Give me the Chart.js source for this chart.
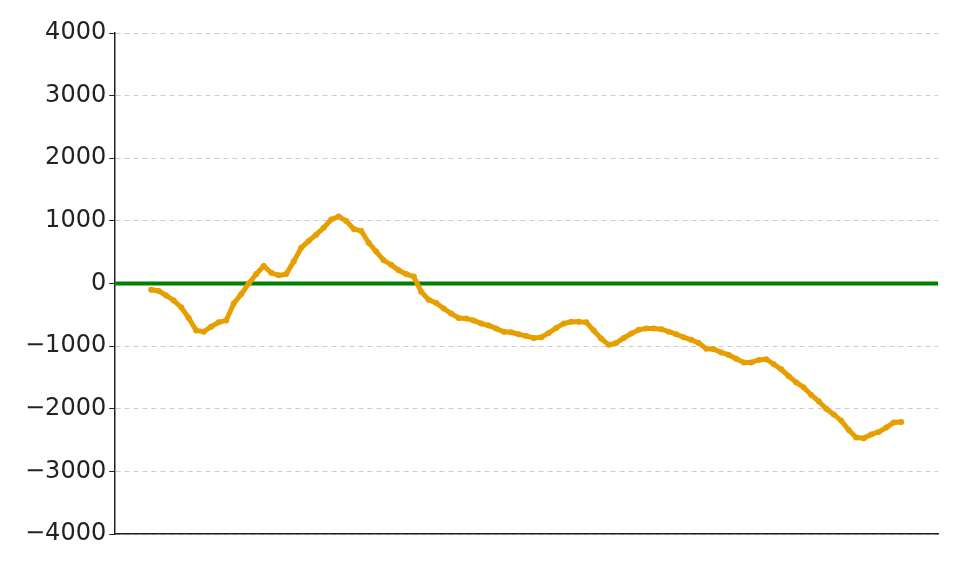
<!DOCTYPE html>
<html>
<head>
<meta charset="utf-8">
<script src="https://cdn.jsdelivr.net/npm/chart.js@4"></script>
<style>
  html, body { margin: 0; padding: 0; background: #fff; }
</style>
</head>
<body>
<canvas id="grafico" width="960" height="570"></canvas>
<script>
// valores (um ponto por passo)
const valores = [
  -100, -120, -190, -270, -380, -550, -750, -770, -690, -620,
  -590, -320, -170, 0, 150, 280, 170, 130, 150, 350,
  570, 680, 780, 890, 1020, 1070, 1000, 870, 840, 650,
  510, 370, 300, 210, 150, 110, -130, -260, -310, -400,
  -480, -550, -560, -590, -640, -670, -720, -770, -780, -810,
  -840, -870, -860, -790, -710, -640, -610, -610, -620, -750,
  -880, -980, -950, -870, -800, -740, -720, -720, -730, -770,
  -810, -860, -900, -950, -1040, -1050, -1100, -1140, -1200, -1260,
  -1260, -1220, -1210, -1290, -1370, -1480, -1580, -1660, -1780, -1880,
  -2000, -2090, -2190, -2340, -2460, -2470, -2410, -2370, -2300, -2220,
  -2210
];
const passos = valores.map((v, i) => i);
const ticksY = [-4000, -3000, -2000, -1000, 0, 1000, 2000, 3000, 4000];

const xMin = -4.8;
const xMax = 104.9;

const ctx = document.getElementById('grafico').getContext('2d');
const grafico = new Chart(ctx, {
    type: 'line',
    data: {
        datasets: [{
            data: passos.map((p, i) => ({ x: p, y: valores[i] })),
            borderColor: '#E69F00',
            backgroundColor: '#E69F00',
            borderWidth: 5,
            pointRadius: 3,
            pointBorderWidth: 0,
            fill: false,
            order: 1
        }, {
            data: [{ x: xMin, y: 0 }, { x: xMax, y: 0 }],
            borderColor: '#008000',
            borderWidth: 4,
            pointRadius: 0,
            fill: false,
            order: 2
        }]
    },
    options: {
        responsive: false,
        animation: false,
        layout: { padding: { top: 33, right: 22, bottom: 28, left: 22 } },
        plugins: { legend: { display: false }, tooltip: { enabled: false } },
        scales: {
            x: {
                type: 'linear',
                min: xMin,
                max: xMax,
                ticks: { display: false },
                grid: { display: false },
                border: { display: true, color: '#222', width: 1.5 }
            },
            y: {
                min: -4000,
                max: 4000,
                afterBuildTicks: (s) => { s.ticks = ticksY.map(v => ({ value: v })); },
                ticks: {
                    color: '#222',
                    autoSkip: false,
                    font: { family: 'DejaVu Sans', size: 24 },
                    padding: 3,
                    callback: (v) => String(v).replace('-', '\u2212')
                },
                grid: {
                    color: '#cccccc',
                    lineWidth: 1,
                    tickColor: '#222',
                    tickLength: 6,
                    tickBorderDash: []
                },
                border: { display: true, color: '#222', width: 1.5, dash: [5, 4] }
            }
        }
    }
});
</script>
</body>
</html>
